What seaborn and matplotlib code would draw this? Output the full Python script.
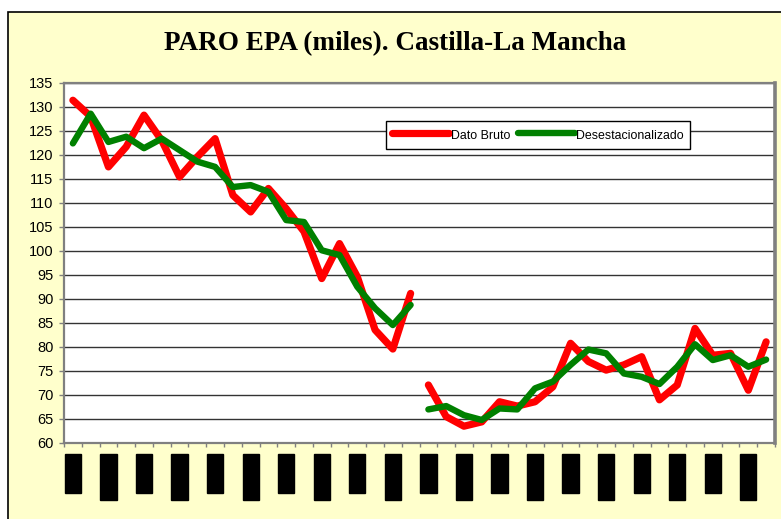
import numpy as np
import pandas as pd
import matplotlib
matplotlib.use("Agg")
import matplotlib.pyplot as plt
import seaborn as sns
from matplotlib.patches import Rectangle

# trimestres (etiquetas del eje x)
anios = ["1996", "1997", "1998", "1999", "2000", "2001", "2002", "2003", "2004", "2005"]
trimestres = ["I", "II", "III", "IV"]
periodos = [f"{t} {a}" for a in anios for t in trimestres]

# dos tramos de la serie (cambio metodologico)
tramo = [1] * 20 + [2] * 20

dato_bruto = [131.4, 128.0, 117.5, 121.7, 128.3, 123.0, 115.4, 119.6, 123.4, 111.6,
              108.1, 113.0, 108.8, 104.0, 94.2, 101.5, 94.6, 83.5, 79.5, 91.1,
              72.0, 65.4, 63.4, 64.3, 68.5, 67.6, 68.5, 71.6, 80.7, 76.9,
              75.1, 76.2, 77.9, 68.9, 72.0, 83.8, 78.2, 78.6, 70.9, 81.0]
desestacionalizado = [122.4, 128.6, 122.7, 123.8, 121.4, 123.4, 121.0, 118.6, 117.5, 113.3,
                      113.7, 112.3, 106.4, 106.0, 100.1, 99.1, 92.5, 88.0, 84.5, 88.7,
                      66.9, 67.6, 65.7, 64.7, 67.1, 66.9, 71.3, 72.7, 76.2, 79.4,
                      78.6, 74.4, 73.7, 72.2, 75.8, 80.5, 77.2, 78.2, 75.8, 77.3]

series = ["Dato Bruto", "Desestacionalizado"]
colores = {"Dato Bruto": "#FF0000", "Desestacionalizado": "#008000"}
grosor = {"Dato Bruto": 5.2, "Desestacionalizado": 4.6}

df = pd.DataFrame({
    "pos": list(range(len(periodos))) * 2,
    "valor": dato_bruto + desestacionalizado,
    "serie": [series[0]] * len(dato_bruto) + [series[1]] * len(desestacionalizado),
    "tramo": tramo * 2,
})

sns.set_theme(style="white")
plt.rcParams["font.family"] = ["Liberation Sans", "DejaVu Sans"]
plt.rcParams["text.color"] = "black"

fig = plt.figure(figsize=(7.81, 5.19), dpi=100)
fig.patch.set_facecolor("white")
fondo = Rectangle((8 / 781, -0.02), 1.0, 1 - 12 / 519 + 0.02, transform=fig.transFigure,
                  facecolor="#FFFFCC", edgecolor="black", linewidth=1.2, zorder=-10)
fig.patches.append(fondo)

ax = fig.add_axes([64 / 781, (519 - 442.5) / 519, (775 - 64) / 781, (442.5 - 83) / 519])
ax.set_facecolor("white")

sns.lineplot(data=df, x="pos", y="valor", hue="serie", units="tramo", estimator=None,
             hue_order=series, palette=colores, ax=ax, legend=True,
             solid_capstyle="round", solid_joinstyle="round")
for linea in ax.get_lines():
    if matplotlib.colors.to_hex(linea.get_color()).lower() == "#ff0000":
        linea.set_linewidth(grosor["Dato Bruto"])
    else:
        linea.set_linewidth(grosor["Desestacionalizado"])

ax.set_xlim(-0.5, len(periodos) - 0.5)
ax.set_ylim(60, 135)
ax.set_yticks(np.arange(60, 136, 5))
ax.yaxis.grid(True, color="#333333", linewidth=1.0)
ax.xaxis.grid(False)
ax.set_axisbelow(True)
ax.set_xlabel("")
ax.set_ylabel("")

for lado, sp in ax.spines.items():
    sp.set_visible(True)
    sp.set_color("#808080")
    sp.set_linewidth(1.6)
ax.spines["right"].set_linewidth(2.6)

ax.tick_params(axis="y", which="major", direction="out", length=3.5, width=1,
               color="#808080", labelsize=10.5, labelcolor="black", pad=4, left=True)
ax.set_xticks(range(0, len(periodos), 2))
ax.set_xticklabels(periodos[::2], rotation=90, fontsize=9, color="black")
ax.set_xticks(np.arange(-0.5, len(periodos), 1), minor=True)
ax.tick_params(axis="x", which="major", length=0, pad=10)
ax.tick_params(axis="x", which="minor", direction="out", length=3, width=1,
               color="#808080", bottom=True)
for et in ax.get_xticklabels():
    et.set_bbox(dict(facecolor="black", edgecolor="black", boxstyle="square,pad=0.17"))

handles, labels = ax.get_legend_handles_labels()
for h, s in zip(handles, labels):
    h.set_linewidth(grosor.get(s, 5))
    h.set_solid_capstyle("round")
ley = ax.legend(handles, labels, loc="upper left", bbox_to_anchor=(0.453, 0.894), ncol=2,
                fontsize=8.9, handlelength=4.6, handleheight=1.5, handletextpad=0.15,
                columnspacing=0.6, borderpad=0.5, frameon=True, fancybox=False,
                framealpha=1, borderaxespad=0)
ley.get_frame().set_edgecolor("black")
ley.get_frame().set_linewidth(1.0)

fig.text(0.506, 0.916, "PARO EPA (miles). Castilla-La Mancha", ha="center", va="center",
         fontsize=19.5, fontweight="bold", color="black",
         family=["Liberation Serif", "DejaVu Serif"])

fig.savefig("out.png", dpi=100, facecolor=fig.get_facecolor())
plt.close(fig)
